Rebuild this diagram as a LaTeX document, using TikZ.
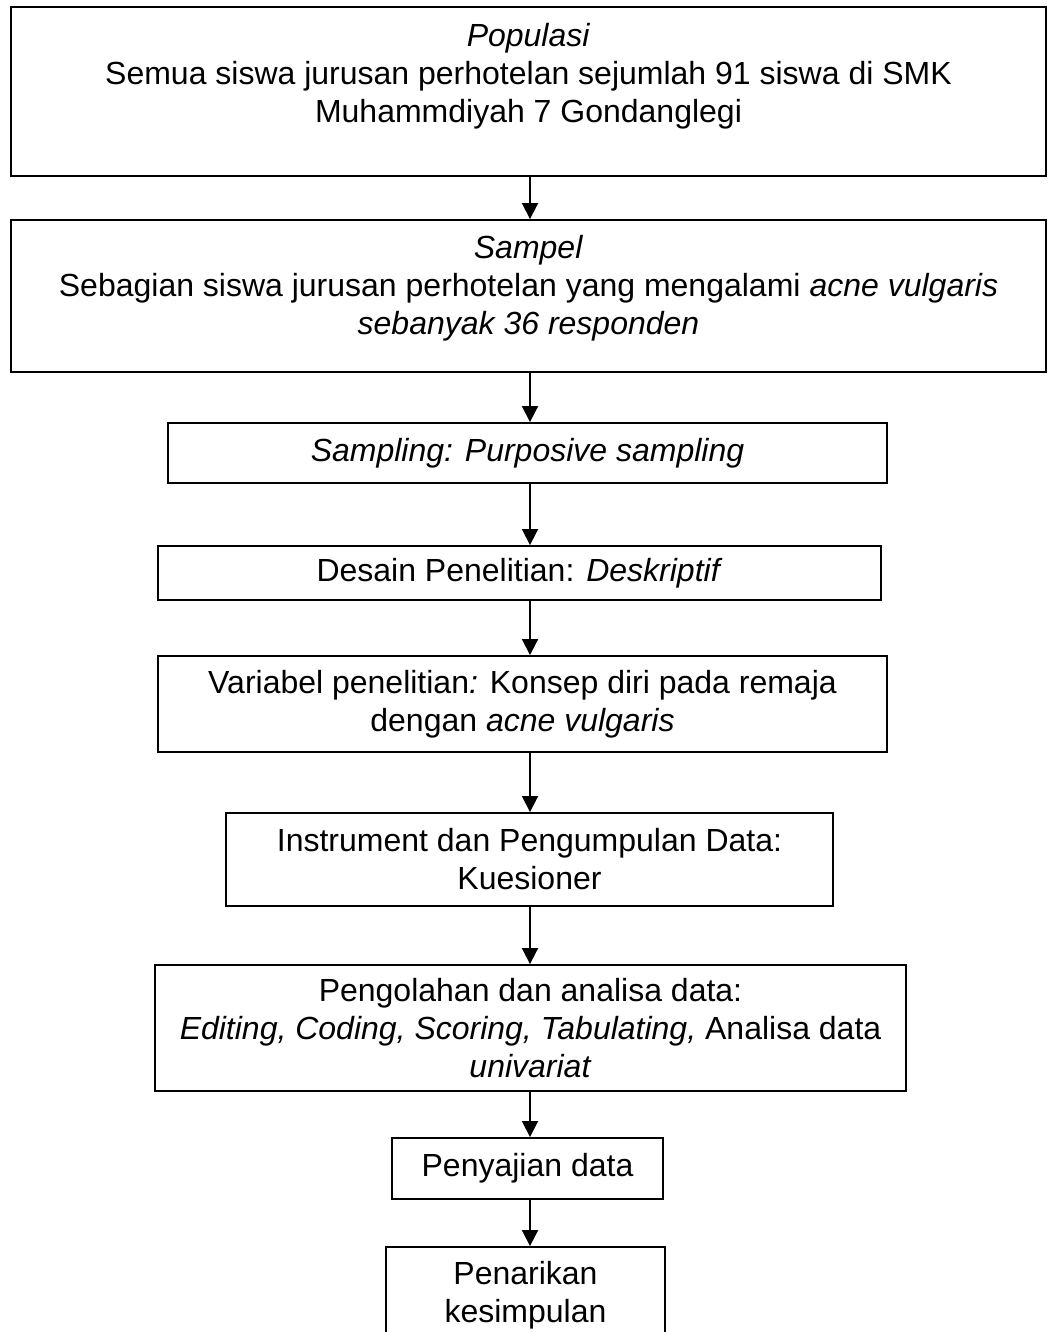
\documentclass[tikz,border=0pt]{standalone}
\usepackage{fontspec}
\setmainfont{Liberation Sans}
\usetikzlibrary{arrows.meta}

\begin{document}
\begin{tikzpicture}[x=0.375pt, y=-0.375pt,
    box/.style={draw, line width=0.7pt, align=center, inner sep=0pt,
        font=\fontsize{12}{14.25}\selectfont},
    arr/.style={line width=0.7pt, -{Triangle[length=6pt, width=6pt]}}]
    \useasboundingbox (0,0) rectangle (1048,1332);
    \coordinate (ax) at (530,0);
    % populasi:
    \node [box, minimum width=388.1pt, minimum height=63.4pt, text depth=14pt] (pop) at (528.5,91.5)
        {\textit{Populasi}\\Semua siswa jurusan perhotelan sejumlah 91 siswa di SMK\\Muhammdiyah 7 Gondanglegi};
    % sampel:
    \node [box, minimum width=388.1pt, minimum height=57pt, text depth=8pt] (smp) at (528.5,296)
        {\textit{Sampel}\\Sebagian siswa jurusan perhotelan yang mengalami \textit{acne vulgaris}\\\textit{sebanyak 36 responden}};
    % sampling, desain, variabel:
    \node [box, minimum width=269.6pt, minimum height=22.5pt] (samp) at (527.5,453)
        {\textit{Sampling: Purposive sampling}};
    \node [box, minimum width=271.1pt, minimum height=20.25pt] (des) at (519.5,573)
        {Desain Penelitian: \textit{Deskriptif}};
    \node [box, minimum width=273.4pt, minimum height=36pt] (var) at (522.5,704)
        {Variabel penelitian\textit{:} Konsep diri pada remaja\\dengan \textit{acne vulgaris}};
    % instrumen, pengolahan:
    \node [box, minimum width=227.6pt, minimum height=34.9pt] (ins) at (529.5,859.5)
        {Instrument dan Pengumpulan Data:\\Kuesioner};
    \node [box, minimum width=281.6pt, minimum height=47.25pt] (olah) at (530.5,1028)
        {Pengolahan dan analisa data:\\\textit{Editing, Coding, Scoring, Tabulating,} Analisa data\\\textit{univariat}};
    % penyajian, kesimpulan:
    \node [box, minimum width=101.6pt, minimum height=22.9pt] (saji) at (527.5,1168.5)
        {Penyajian data};
    \node [box, minimum width=104.6pt, minimum height=36pt] (simp) at (525.5,1295)
        {Penarikan\\kesimpulan};
    % arrows:
    \draw [arr] (pop.south -| ax) -- (smp.north -| ax);
    \draw [arr] (smp.south -| ax) -- (samp.north -| ax);
    \draw [arr] (samp.south -| ax) -- (des.north -| ax);
    \draw [arr] (des.south -| ax) -- (var.north -| ax);
    \draw [arr] (var.south -| ax) -- (ins.north -| ax);
    \draw [arr] (ins.south -| ax) -- (olah.north -| ax);
    \draw [arr] (olah.south -| ax) -- (saji.north -| ax);
    \draw [arr] (saji.south -| ax) -- (simp.north -| ax);
\end{tikzpicture}
\end{document}
